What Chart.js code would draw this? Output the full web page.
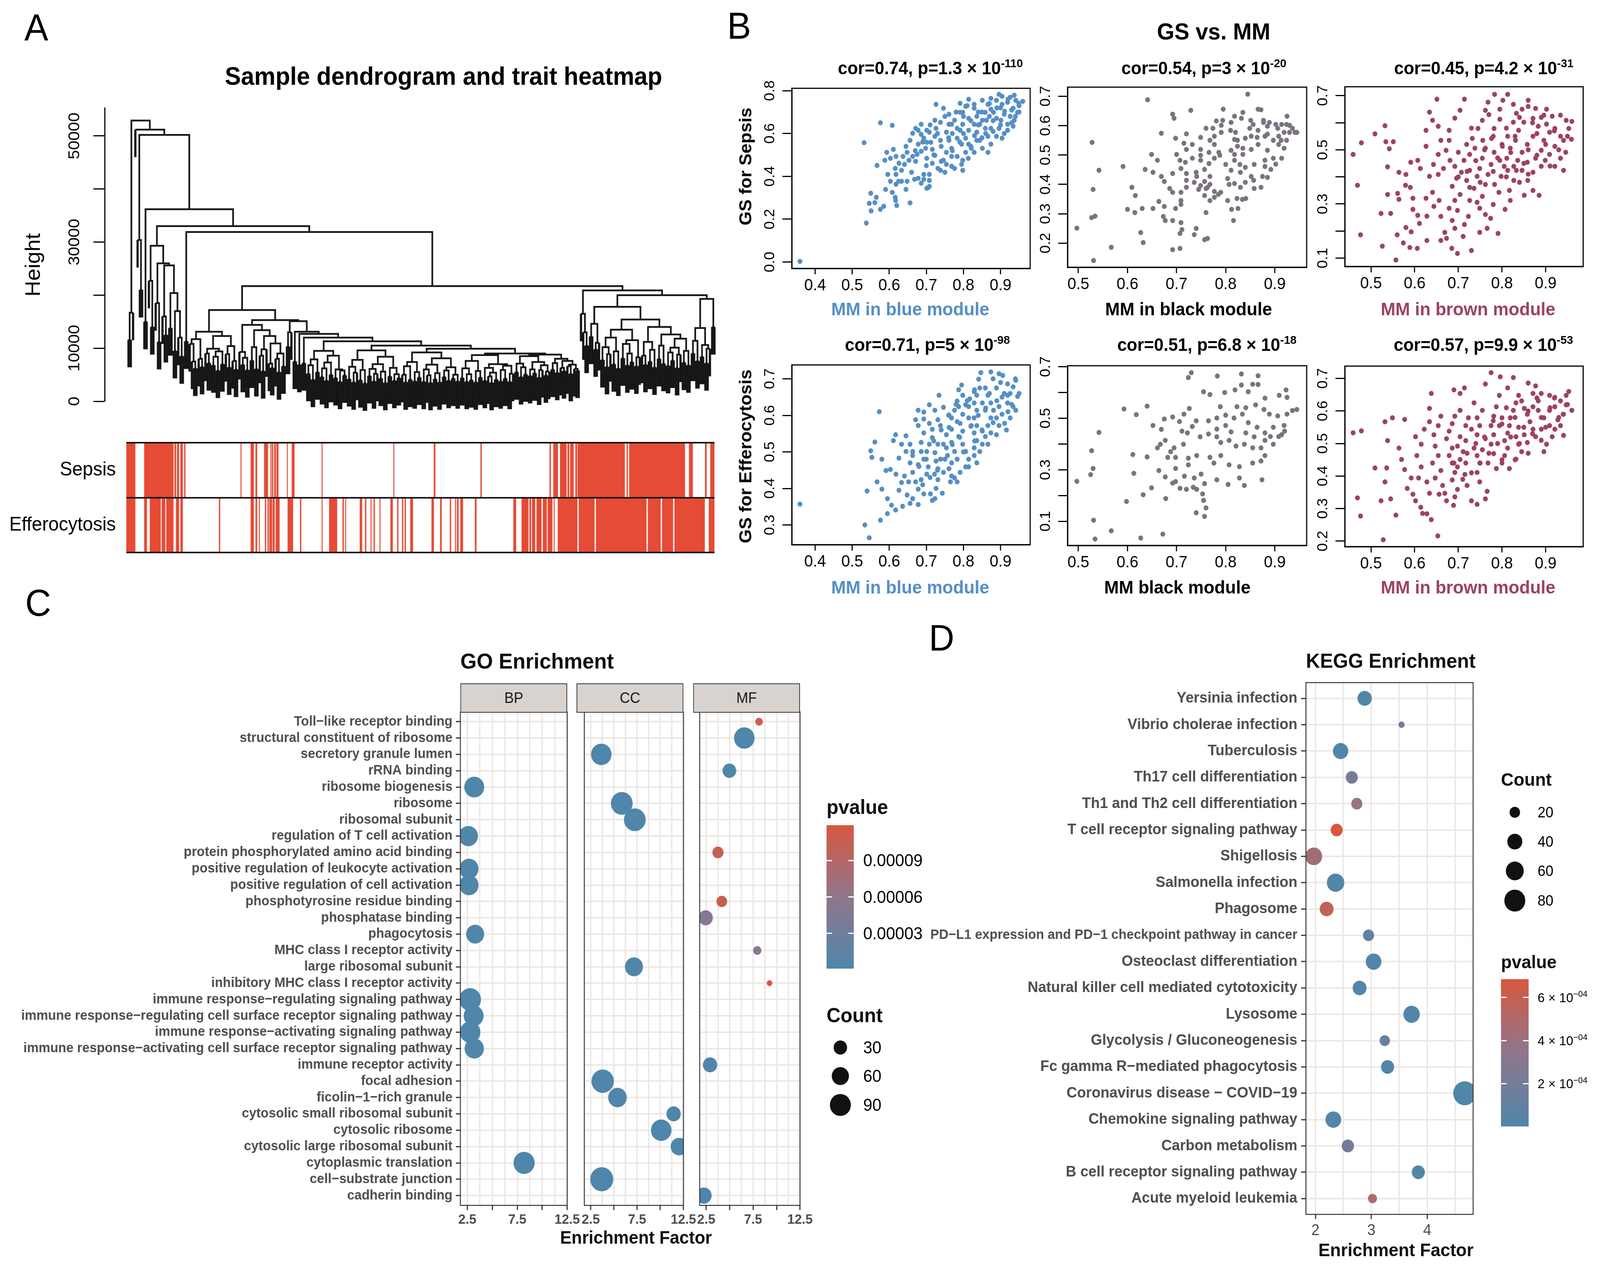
<!DOCTYPE html>
<html>
<head>
<meta charset="utf-8">
<script src="https://cdn.jsdelivr.net/npm/chart.js@4.4.1/dist/chart.umd.min.js"></script>
<style>
html, body { margin: 0; padding: 0; background: #fff; overflow: hidden; }
#page { position: relative; width: 4282px; height: 3235px; overflow: hidden; transform-origin: 0 0;
        font-family: "Liberation Sans", Arial, Helvetica, sans-serif; color: #000; }
canvas { position: absolute; }
.t { position: absolute; white-space: nowrap; line-height: 1; }
.strip { position: absolute; box-sizing: border-box; border: 2.5px solid #333; background: #d9d3cf;
         display: flex; align-items: center; justify-content: center; font-size: 38px; color: #1a1a1a; }
.sw { position: absolute; }
</style>
</head>
<body>
<div id="page"></div>
<script>
// ---------------- data: panel A ----------------
// merge height (x1000) between neighbouring samples, left to right along the tree
const dendroMergeK = [
  11.6, 16.7, 52.9, 51.2, 30.4, 21.0, 50.2, 15.0, 36.2,
  22.7, 14.0, 29.3, 18.5, 11.2, 26.0, 16.0, 12.5, 25.6, 13.8, 20.4, 9.5, 17.0, 12.0, 8.5,
  33.0, 11.3, 31.9,
  10.8, 7.5, 6.2, 11.7, 8.0, 6.5, 13.1, 9.0, 7.2, 9.9, 6.8, 8.4, 5.8, 9.4, 7.0, 12.3, 8.9, 6.4, 10.4, 7.6, 6.0,
  17.2,
  9.3, 6.9, 8.2, 5.9, 14.4, 7.7, 10.2, 6.1, 13.4, 8.6, 5.7, 9.8, 12.3, 7.1, 6.3, 10.9, 8.0, 5.5, 9.0, 6.6,
  15.3, 10.3, 13.0, 15.1,
  7.5, 13.1, 6.9, 12.7, 7.2, 12.0,
  5.2, 6.8, 4.1, 7.9, 5.5, 9.5, 4.6, 6.2, 3.9, 7.3, 5.0, 8.6, 4.4, 6.0, 3.7, 5.8, 4.9,
  11.3,
  4.2, 6.5, 3.6, 5.4, 7.8, 4.0, 5.9, 3.4, 9.6, 4.8, 6.1, 3.8, 5.2, 7.0, 4.3, 5.6, 3.5, 8.4, 4.7, 6.3, 3.9, 5.1, 4.4,
  10.5,
  5.0, 3.6, 6.6, 4.1, 7.4, 3.8, 5.5, 4.5, 9.2, 3.7, 6.0, 4.9, 3.5, 6.9, 4.2, 5.3, 3.6, 8.1, 4.6, 5.8, 3.9, 6.4, 4.3, 5.0, 3.8,
  9.9,
  4.4, 6.2, 3.7, 5.1, 4.0, 7.6, 3.6, 5.7, 4.5, 8.7, 3.9, 6.3, 4.7, 3.5, 5.4, 4.1, 7.0, 3.8, 5.9, 4.3, 6.7, 3.7, 5.2,
  9.0,
  5.5, 7.1, 4.6, 6.4, 5.1, 8.5, 4.8, 6.0, 5.3, 7.4, 4.5, 5.9, 6.8, 4.9, 5.6,
  8.8,
  6.0, 7.2, 5.4, 8.0, 6.3, 5.7, 7.6, 6.6, 5.2, 6.9, 6.1, 5.8,
  21.7,
  16.5, 13.0, 10.5, 20.9, 12.2, 14.6, 9.8, 11.0, 17.8,
  7.8, 10.2, 6.5, 8.9, 12.0, 7.0, 9.4, 6.2, 13.5, 8.1, 10.8, 6.8, 9.0, 7.4, 11.5, 6.6, 8.3,
  15.4,
  8.6, 6.9, 11.2, 7.5, 9.7, 6.4, 14.0, 8.0, 10.5, 7.1, 12.6, 6.7, 9.2, 7.7, 10.1, 6.3, 8.8, 11.8, 7.3, 9.5, 6.8,
  20.0,
  9.0, 11.4, 7.6, 13.8, 8.4, 10.6, 7.2, 9.9,
  19.3, 14.0
];
const dendroHangK = 5.2;
const dendroTickLabelsK = [0, 10, 30, 50];
const traitNames = ['Sepsis', 'Efferocytosis'];
// red runs, on a 0..1574 sample-position scale
const sepsisRuns = [[0,24],[48,126],[129,133],[136,141],[145,151],[155,158],[306,308],[333,341],[346,350],
  [369,379],[386,388],[390,393],[396,400],[402,407],[430,432],[443,450],[523,525],[715,717],[823,827],[948,951],
  [1133,1136],[1143,1155],[1161,1178],[1181,1185],[1188,1197],[1202,1206],[1208,1334],[1339,1342],[1346,1495],
  [1506,1516],[1549,1553],[1563,1574]];
const efferoRuns = [[0,24],[48,55],[63,92],[95,104],[107,126],[133,141],[145,151],[248,251],[333,341],[346,350],
  [355,357],[371,374],[378,381],[383,390],[392,397],[400,410],[432,446],[465,468],[523,525],[543,564],[579,582],
  [586,588],[625,631],[639,642],[654,656],[662,665],[678,680],[707,713],[725,728],[738,741],[745,748],[760,767],
  [817,823],[840,844],[866,869],[880,882],[885,889],[894,901],[933,937],[1036,1043],[1058,1076],[1079,1083],
  [1086,1094],[1098,1111],[1115,1125],[1128,1140],[1144,1146],[1155,1207],[1211,1253],[1257,1392],[1396,1430],
  [1434,1463],[1467,1548],[1559,1574]];

// ---------------- data: panel B ----------------
const gsTitles = [
  'cor=0.74, p=1.3 × 10<sup>-110</sup>', 'cor=0.54, p=3 × 10<sup>-20</sup>', 'cor=0.45, p=4.2 × 10<sup>-31</sup>',
  'cor=0.71, p=5 × 10<sup>-98</sup>', 'cor=0.51, p=6.8 × 10<sup>-18</sup>', 'cor=0.57, p=9.9 × 10<sup>-53</sup>'];
const mmTitles = ['MM in blue module', 'MM in black module', 'MM in brown module',
  'MM in blue module', 'MM black module', 'MM in brown module'];
const gsAxisTitles = ['GS for Sepsis', 'GS for Efferocytosis'];
const gsYLabels = [[0, 0.2, 0.4, 0.6, 0.8], [0.2, 0.3, 0.4, 0.5, 0.6, 0.7], [0.1, 0.3, 0.5, 0.7],
  [0.3, 0.4, 0.5, 0.6, 0.7], [0.1, 0.3, 0.5, 0.7], [0.2, 0.3, 0.4, 0.5, 0.6, 0.7]];
const gsYSteps = [0.2, 0.1, 0.1, 0.1, 0.1, 0.1];

const sepsisBlue = [[.359,.003],[.538,.182],[.532,.557],[.576,.650],[.608,.638],[.550,.321],[.546,.274],[.551,.239],
  [.561,.277],[.576,.246],[.585,.260],[.565,.302],[.590,.339],[.608,.325],[.616,.302],[.617,.288],[.620,.264],[.656,.276],
  [.645,.339],[.648,.377],[.625,.377],[.618,.409],[.633,.428],[.660,.419],[.678,.391],[.693,.409],[.708,.353],[.701,.344],
  [.686,.368],[.668,.386],[.567,.451],[.588,.475],[.603,.484],[.593,.512],[.611,.526],[.618,.493],[.626,.461],[.641,.456],
  [.653,.475],[.663,.493],[.648,.512],[.645,.540],[.656,.568],[.663,.601],[.671,.624],[.686,.643],[.701,.615],[.693,.578],
  [.678,.550],[.686,.517],[.701,.484],[.716,.461],[.731,.437],[.750,.419],[.768,.447],[.746,.475],[.723,.498],[.716,.526],
  [.712,.559],[.723,.587],[.726,.624],[.723,.662],[.726,.736],[.746,.718],[.750,.680],[.761,.643],[.754,.606],[.761,.568],
  [.768,.531],[.783,.493],[.795,.456],[.798,.475],[.813,.484],[.806,.512],[.821,.531],[.795,.550],[.783,.578],[.791,.615],
  [.798,.643],[.791,.699],[.791,.741],[.814,.760],[.829,.718],[.836,.680],[.829,.643],[.836,.606],[.844,.568],[.851,.531],
  [.866,.512],[.874,.550],[.866,.587],[.874,.624],[.862,.662],[.859,.699],[.866,.736],[.874,.764],[.889,.755],[.896,.783],
  [.904,.736],[.911,.704],[.901,.662],[.896,.624],[.904,.578],[.889,.587],[.919,.643],[.926,.680],[.934,.718],[.941,.755],
  [.937,.779],[.949,.741],[.946,.699],[.937,.662],[.919,.615],[.934,.634],[.881,.699],[.851,.662],[.844,.643],[.814,.615],
  [.806,.578],[.768,.643],[.761,.690],[.776,.662],[.783,.624],[.738,.652],[.738,.568],[.708,.606],[.686,.596],[.678,.615],
  [.814,.671],[.829,.736],[.851,.755],[.919,.746],[.926,.769],[.904,.774],[.874,.713],[.889,.671],[.859,.624],[.836,.568],
  [.829,.512],[.798,.428],[.776,.437],[.754,.456],[.738,.428],[.708,.409],[.693,.386],[.708,.381],[.705,.348],[.633,.377],
  [.618,.363],[.603,.377],[.596,.409],[.616,.437],[.637,.493],[.671,.470],[.675,.503],[.698,.531],[.701,.559],[.754,.512],
  [.768,.493],[.814,.550],[.798,.699],[.806,.727],[.85,.70],[.88,.66],[.91,.69],[.93,.71],[.87,.74],[.89,.72],[.92,.76],
  [.95,.73],[.94,.68],[.90,.64],[.86,.60],[.83,.59],[.80,.60],[.82,.66],[.84,.70],[.81,.73],[.78,.70],[.77,.60],[.79,.56],
  [.82,.54],[.85,.58],[.88,.61],[.91,.60],[.93,.65],[.95,.70],[.96,.75],[.90,.72],[.87,.68],[.84,.64],[.80,.68],[.76,.58],
  [.74,.54],[.72,.50],[.70,.45],[.74,.47],[.77,.52],[.73,.60],[.71,.64],[.69,.56],[.67,.52]];

const sepsisBlack = [[.641,.688],[.845,.707],[.528,.543],[.542,.448],[.530,.383],[.527,.287],[.534,.292],[.497,.251],
  [.531,.141],[.567,.186],[.591,.461],[.609,.390],[.616,.362],[.600,.315],[.615,.304],[.630,.318],[.627,.236],[.632,.202],
  [.669,.574],[.692,.639],[.695,.625],[.729,.652],[.698,.557],[.720,.572],[.749,.560],[.715,.540],[.732,.536],[.649,.502],
  [.661,.482],[.636,.451],[.669,.427],[.675,.410],[.652,.441],[.686,.386],[.692,.437],[.709,.454],[.718,.475],[.720,.437],
  [.740,.441],[.709,.345],[.709,.332],[.698,.318],[.692,.373],[.709,.373],[.720,.390],[.675,.325],[.664,.342],[.652,.318],
  [.673,.291],[.677,.277],[.692,.277],[.709,.270],[.711,.246],[.740,.250],[.736,.229],[.707,.233],[.692,.178],[.707,.182],
  [.757,.212],[.763,.216],[.760,.304],[.768,.345],[.777,.356],[.785,.366],[.757,.362],[.745,.383],[.763,.390],[.749,.396],
  [.768,.400],[.757,.410],[.768,.427],[.777,.489],[.788,.499],[.786,.509],[.777,.536],[.768,.550],[.791,.577],[.794,.618],
  [.781,.616],[.795,.656],[.811,.611],[.818,.632],[.835,.645],[.832,.625],[.851,.618],[.866,.656],[.872,.654],[.856,.604],
  [.877,.611],[.885,.598],[.902,.604],[.914,.604],[.925,.632],[.930,.601],[.936,.591],[.945,.577],[.919,.577],[.908,.564],
  [.897,.550],[.880,.564],[.864,.560],[.852,.564],[.840,.557],[.824,.550],[.818,.553],[.824,.530],[.835,.523],[.811,.516],
  [.818,.502],[.835,.502],[.852,.519],[.866,.536],[.885,.516],[.908,.536],[.919,.523],[.897,.489],[.914,.489],[.880,.482],
  [.880,.461],[.892,.451],[.902,.469],[.858,.468],[.840,.458],[.829,.468],[.818,.482],[.800,.468],[.811,.448],[.830,.441],
  [.852,.427],[.875,.427],[.885,.424],[.857,.414],[.840,.407],[.818,.403],[.807,.400],[.804,.420],[.830,.390],[.858,.386],
  [.872,.390],[.834,.349],[.823,.352],[.825,.318],[.812,.315],[.816,.277],[.841,.352],[.804,.345],[.790,.373],[.777,.376],
  [.760,.386],[.736,.407],[.720,.414],[.741,.427],[.757,.451],[.766,.471],[.749,.482],[.732,.489],[.749,.499],[.766,.509],
  [.777,.564],[.760,.591],[.749,.519],[.720,.519],[.707,.482],[.700,.502],[.791,.601],[.774,.591],[.810,.584],[.820,.577],
  [.849,.591],[.866,.584],[.877,.618],[.889,.611],[.906,.591],[.924,.604],[.930,.577],[.941,.577],[.924,.550],[.913,.550],
  [.885,.571]];

const sepsisBrown = [[.459,.483],[.469,.369],[.476,.186],[.478,.526],[.509,.559],[.532,.589],[.534,.530],[.551,.530],
  [.542,.504],[.538,.437],[.523,.265],[.545,.265],[.538,.335],[.561,.339],[.564,.317],[.526,.144],[.557,.093],[.560,.186],
  [.574,.156],[.589,.139],[.606,.136],[.580,.213],[.592,.197],[.596,.280],[.607,.258],[.611,.228],[.628,.165],[.628,.255],
  [.626,.321],[.596,.321],[.590,.361],[.579,.369],[.564,.417],[.580,.409],[.591,.454],[.607,.461],[.613,.431],[.626,.513],
  [.626,.572],[.634,.639],[.651,.687],[.654,.587],[.641,.609],[.660,.535],[.679,.572],[.704,.646],[.714,.687],[.692,.617],
  [.679,.535],[.672,.498],[.654,.483],[.643,.446],[.654,.409],[.634,.402],[.641,.343],[.656,.313],[.644,.291],[.660,.254],
  [.679,.284],[.686,.239],[.692,.210],[.669,.195],[.660,.165],[.673,.173],[.685,.136],[.698,.117],[.730,.128],[.711,.180],
  [.714,.224],[.723,.254],[.698,.276],[.692,.313],[.704,.335],[.686,.365],[.696,.395],[.707,.417],[.692,.439],[.713,.461],
  [.726,.483],[.738,.506],[.732,.542],[.745,.579],[.755,.609],[.762,.646],[.768,.676],[.783,.705],[.795,.650],[.802,.683],
  [.813,.705],[.795,.613],[.782,.579],[.776,.542],[.762,.506],[.755,.469],[.749,.431],[.743,.402],[.736,.358],[.755,.328],
  [.749,.284],[.762,.261],[.766,.210],[.749,.195],[.791,.191],[.774,.247],[.780,.298],[.793,.343],[.783,.372],[.798,.402],
  [.805,.439],[.811,.469],[.819,.506],[.831,.535],[.838,.572],[.850,.602],[.860,.683],[.877,.653],[.871,.616],[.883,.587],
  [.871,.550],[.858,.520],[.846,.491],[.836,.461],[.833,.424],[.827,.387],[.817,.350],[.819,.313],[.807,.280],[.851,.332],
  [.871,.350],[.885,.332],[.859,.387],[.871,.417],[.890,.439],[.899,.461],[.909,.483],[.921,.513],[.934,.550],[.953,.579],
  [.947,.609],[.934,.628],[.915,.624],[.902,.595],[.909,.565],[.921,.579],[.941,.535],[.959,.539],[.946,.491],[.934,.469],
  [.941,.424],[.921,.439],[.896,.535],[.890,.498],[.877,.469],[.858,.454],[.846,.424],[.827,.439],[.813,.424],[.795,.461],
  [.782,.491],[.801,.513],[.813,.550],[.826,.602],[.833,.635],[.826,.668],[.846,.650],[.896,.628],[.902,.650],[.960,.605],
  [.756,.535],[.719,.520],[.700,.491],[.681,.461],[.666,.431],[.719,.387],[.726,.361],[.726,.313],[.743,.306],[.762,.372],
  [.768,.409],[.775,.446],[.726,.424],[.80,.52],[.83,.55],[.86,.50],[.88,.56],[.90,.52],[.92,.57],[.87,.60],[.84,.62],
  [.81,.58],[.78,.55],[.76,.50],[.79,.47],[.82,.49],[.85,.45],[.88,.48],[.91,.44],[.93,.50],[.95,.55],[.89,.62],[.86,.66],
  [.74,.46],[.72,.42],[.70,.40],[.75,.38],[.78,.42],[.81,.40],[.84,.38],[.86,.41],[.73,.58],[.77,.63]];

const effBlue = [[.359,.357],[.534,.300],[.546,.265],[.540,.393],[.576,.313],[.573,.610],[.567,.418],[.580,.398],
  [.553,.485],[.550,.503],[.561,.527],[.580,.480],[.591,.449],[.595,.372],[.606,.354],[.595,.331],[.617,.341],[.636,.351],
  [.656,.359],[.648,.382],[.626,.395],[.633,.416],[.618,.439],[.603,.452],[.626,.483],[.611,.531],[.617,.547],[.645,.544],
  [.656,.521],[.663,.501],[.656,.470],[.663,.444],[.671,.418],[.678,.398],[.693,.385],[.686,.424],[.701,.439],[.705,.459],
  [.693,.480],[.686,.501],[.686,.526],[.693,.552],[.678,.572],[.671,.588],[.693,.590],[.708,.578],[.723,.614],[.708,.629],
  [.734,.655],[.716,.539],[.731,.521],[.723,.498],[.726,.475],[.731,.454],[.722,.439],[.731,.424],[.743,.387],[.726,.400],
  [.746,.444],[.761,.454],[.768,.470],[.757,.490],[.754,.511],[.768,.526],[.754,.547],[.761,.567],[.768,.593],[.776,.614],
  [.783,.639],[.787,.670],[.795,.683],[.798,.655],[.806,.629],[.798,.603],[.791,.578],[.798,.557],[.787,.542],[.798,.521],
  [.806,.501],[.814,.480],[.806,.459],[.791,.444],[.776,.429],[.765,.418],[.829,.511],[.836,.531],[.829,.552],[.836,.572],
  [.829,.593],[.836,.614],[.829,.634],[.836,.655],[.844,.675],[.841,.699],[.874,.719],[.847,.717],[.896,.714],[.906,.709],
  [.919,.686],[.934,.678],[.941,.696],[.946,.652],[.926,.660],[.919,.634],[.934,.624],[.941,.614],[.926,.593],[.911,.578],
  [.916,.560],[.896,.572],[.889,.593],[.881,.614],[.874,.634],[.866,.655],[.859,.675],[.889,.675],[.904,.650],[.896,.624],
  [.874,.593],[.866,.572],[.874,.552],[.859,.542],[.851,.521],[.844,.501],[.829,.490],[.836,.470],[.814,.459],[.783,.418],
  [.768,.434],[.851,.557],[.866,.521],[.889,.547],[.904,.603],[.919,.655],[.851,.634],[.859,.614],[.821,.572],[.814,.593],
  [.814,.624],[.817,.645],[.829,.665],[.783,.583],[.768,.562],[.738,.572],[.731,.588],[.716,.562],[.708,.521],[.701,.501],
  [.738,.480],[.746,.521],[.776,.501],[.783,.480],[.711,.385],[.716,.367],[.678,.356],[.663,.372],[.641,.434],[.652,.418],
  [.678,.465],[.663,.490],[.645,.501],[.633,.521],[.693,.609],[.678,.614],[.746,.622],[.761,.601],[.787,.624],[.723,.372],
  [.86,.62],[.89,.64],[.91,.66],[.93,.63],[.88,.58],[.85,.56],[.83,.53],[.80,.50],[.82,.57],[.84,.60],[.87,.66],[.90,.69],
  [.92,.61],[.95,.66],[.94,.70],[.88,.70],[.79,.54],[.77,.52],[.75,.48],[.73,.45],[.71,.43],[.69,.41],[.74,.56],[.72,.53],
  [.70,.48],[.68,.46],[.76,.60],[.78,.63],[.81,.64],[.83,.67]];

const effBlack = [[.730,.677],[.724,.658],[.783,.664],[.832,.672],[.866,.665],[.593,.536],[.640,.547],[.618,.514],
  [.542,.445],[.527,.374],[.530,.305],[.525,.281],[.497,.255],[.531,.104],[.567,.063],[.534,.031],[.627,.035],[.672,.050],
  [.598,.177],[.632,.203],[.613,.286],[.611,.359],[.640,.350],[.649,.230],[.678,.188],[.692,.248],[.707,.228],[.720,.224],
  [.741,.224],[.753,.206],[.755,.181],[.760,.152],[.757,.119],[.740,.133],[.664,.297],[.677,.272],[.698,.305],[.716,.275],
  [.736,.268],[.750,.283],[.776,.326],[.768,.348],[.790,.355],[.807,.319],[.805,.243],[.828,.268],[.838,.239],[.874,.261],
  [.828,.312],[.855,.326],[.872,.334],[.880,.355],[.897,.399],[.914,.436],[.920,.450],[.908,.429],[.891,.429],[.880,.414],
  [.872,.385],[.855,.385],[.838,.399],[.821,.392],[.807,.414],[.790,.406],[.782,.428],[.765,.439],[.748,.428],[.722,.443],
  [.714,.399],[.695,.385],[.677,.414],[.661,.385],[.667,.399],[.688,.370],[.724,.345],[.741,.355],[.724,.319],[.698,.348],
  [.652,.472],[.675,.497],[.692,.505],[.715,.516],[.726,.538],[.740,.490],[.765,.490],[.782,.501],[.755,.603],[.768,.592],
  [.798,.600],[.819,.610],[.832,.629],[.855,.632],[.866,.631],[.846,.603],[.880,.578],[.909,.589],[.923,.610],[.925,.581],
  [.861,.552],[.878,.534],[.889,.516],[.906,.509],[.925,.516],[.936,.530],[.945,.534],[.919,.472],[.897,.465],[.880,.443],
  [.864,.465],[.846,.483],[.834,.516],[.817,.501],[.800,.512],[.789,.545],[.823,.545],[.841,.541],[.800,.472],[.782,.458],
  [.811,.447],[.841,.443],[.858,.428],[.711,.450],[.732,.468],[.706,.487],[.669,.457],[.682,.348],[.734,.232],[.698,.254],
  [.757,.246],[.782,.261]];

const effBrown = [[.459,.533],[.478,.539],[.469,.333],[.476,.277],[.528,.204],[.523,.324],[.545,.330],[.557,.280],
  [.509,.425],[.532,.567],[.549,.579],[.577,.574],[.538,.509],[.536,.425],[.532,.382],[.564,.486],[.570,.451],[.577,.420],
  [.583,.362],[.592,.394],[.596,.344],[.602,.324],[.614,.304],[.618,.285],[.628,.284],[.638,.266],[.653,.216],[.656,.344],
  [.634,.347],[.628,.382],[.609,.394],[.615,.428],[.605,.463],[.615,.498],[.602,.521],[.622,.544],[.634,.567],[.638,.654],
  [.634,.608],[.660,.584],[.654,.555],[.644,.527],[.647,.492],[.654,.463],[.641,.440],[.660,.417],[.647,.394],[.664,.371],
  [.669,.347],[.673,.324],[.689,.310],[.692,.336],[.698,.359],[.686,.388],[.692,.411],[.686,.440],[.679,.463],[.686,.486],
  [.673,.515],[.679,.538],[.686,.561],[.692,.584],[.704,.602],[.690,.665],[.714,.671],[.704,.654],[.717,.555],[.717,.509],
  [.711,.475],[.717,.440],[.715,.405],[.720,.371],[.730,.324],[.743,.313],[.762,.330],[.766,.353],[.749,.382],[.743,.411],
  [.749,.440],[.743,.463],[.736,.486],[.743,.527],[.749,.555],[.743,.579],[.736,.625],[.762,.683],[.775,.718],[.796,.705],
  [.826,.703],[.813,.671],[.794,.648],[.787,.613],[.781,.584],[.775,.555],[.781,.527],[.775,.498],[.781,.469],[.768,.440],
  [.787,.423],[.800,.440],[.806,.463],[.813,.486],[.806,.509],[.813,.532],[.817,.555],[.819,.579],[.826,.602],[.832,.625],
  [.838,.648],[.845,.631],[.851,.608],[.860,.686],[.877,.677],[.871,.654],[.883,.631],[.890,.654],[.909,.648],[.921,.642],
  [.934,.631],[.947,.648],[.953,.660],[.947,.619],[.960,.602],[.941,.590],[.928,.573],[.934,.555],[.921,.544],[.909,.555],
  [.896,.579],[.883,.602],[.871,.613],[.858,.590],[.864,.567],[.871,.544],[.877,.521],[.858,.503],[.851,.527],[.838,.550],
  [.832,.521],[.838,.498],[.845,.475],[.832,.452],[.817,.423],[.896,.475],[.902,.498],[.915,.521],[.941,.525],[.890,.544],
  [.909,.602],[.921,.613],[.800,.579],[.794,.555],[.755,.602],[.762,.515],[.755,.481],[.723,.579],[.730,.544],[.704,.521],
  [.698,.492],[.704,.451],[.698,.428],[.83,.58],[.86,.60],[.89,.58],[.91,.61],[.93,.58],[.88,.64],[.85,.55],[.82,.52],
  [.79,.50],[.77,.47],[.80,.56],[.84,.50],[.87,.53],[.90,.55],[.92,.64],[.95,.62],[.94,.59],[.89,.51],[.86,.47],[.83,.45],
  [.75,.44],[.73,.41],[.71,.39],[.76,.52],[.78,.57],[.81,.61],[.74,.50],[.69,.44],[.72,.47],[.80,.45]];

// ---------------- data: panel C (GO) ----------------
const goTerms = ['Toll−like receptor binding', 'structural constituent of ribosome', 'secretory granule lumen',
  'rRNA binding', 'ribosome biogenesis', 'ribosome', 'ribosomal subunit', 'regulation of T cell activation',
  'protein phosphorylated amino acid binding', 'positive regulation of leukocyte activation',
  'positive regulation of cell activation', 'phosphotyrosine residue binding', 'phosphatase binding', 'phagocytosis',
  'MHC class I receptor activity', 'large ribosomal subunit', 'inhibitory MHC class I receptor activity',
  'immune response−regulating signaling pathway', 'immune response−regulating cell surface receptor signaling pathway',
  'immune response−activating signaling pathway', 'immune response−activating cell surface receptor signaling pathway',
  'immune receptor activity', 'focal adhesion', 'ficolin−1−rich granule', 'cytosolic small ribosomal subunit',
  'cytosolic ribosome', 'cytosolic large ribosomal subunit', 'cytoplasmic translation', 'cell−substrate junction',
  'cadherin binding'];
const goOnt = ['MF','MF','CC','MF','BP','CC','CC','BP','MF','BP','BP','MF','MF','BP','MF','CC','MF','BP','BP','BP','BP',
  'MF','CC','CC','CC','CC','CC','BP','CC','MF'];
const goFactor = [8.13, 6.56, 3.63, 4.97, 3.19, 5.84, 7.25, 2.60, 3.75, 2.66, 2.66, 4.16, 2.44, 3.28, 7.94, 7.16, 9.25,
  2.78, 3.13, 2.78, 3.19, 2.91, 3.78, 5.38, 11.44, 10.10, 12.03, 8.18, 3.68, 2.25];
const goCount = [6, 88, 88, 33, 82, 101, 101, 76, 19, 76, 76, 17, 37, 65, 8, 65, 2, 101, 82, 88, 76, 37, 108, 70, 37,
  88, 55, 95, 115, 45];
const goP = [1.10e-4, 1e-6, 1e-6, 1e-6, 1e-6, 1e-6, 1e-6, 1e-6, 1.03e-4, 1e-6, 1e-6, 1.07e-4, 5.2e-5, 1e-6, 5.5e-5, 1e-6,
  1.19e-4, 1e-6, 1e-6, 1e-6, 1e-6, 1e-6, 1e-6, 1e-6, 1e-6, 1e-6, 1e-6, 1e-6, 1e-6, 1e-6];
const goFacets = ['BP', 'CC', 'MF'];
const goPBreaks = [0.00003, 0.00006, 0.00009];
const goCountBreaks = [30, 60, 90];

// ---------------- data: panel D (KEGG) ----------------
const keggTerms = ['Yersinia infection', 'Vibrio cholerae infection', 'Tuberculosis', 'Th17 cell differentiation',
  'Th1 and Th2 cell differentiation', 'T cell receptor signaling pathway', 'Shigellosis', 'Salmonella infection',
  'Phagosome', 'PD−L1 expression and PD−1 checkpoint pathway in cancer', 'Osteoclast differentiation',
  'Natural killer cell mediated cytotoxicity', 'Lysosome', 'Glycolysis / Gluconeogenesis',
  'Fc gamma R−mediated phagocytosis', 'Coronavirus disease − COVID−19', 'Chemokine signaling pathway',
  'Carbon metabolism', 'B cell receptor signaling pathway', 'Acute myeloid leukemia'];
const keggFactor = [2.88, 3.54, 2.45, 2.65, 2.74, 2.38, 1.97, 2.36, 2.20, 2.95, 3.04, 2.79, 3.72, 3.24, 3.29, 4.67,
  2.32, 2.58, 3.84, 3.02];
const keggCount = [38, 7, 44, 27, 23, 27, 53, 57, 36, 23, 46, 36, 50, 20, 32, 98, 46, 28, 32, 15];
const keggP = [1e-5, 1.8e-4, 1e-6, 2.0e-4, 3.8e-4, 6.85e-4, 4.3e-4, 1e-5, 5.8e-4, 0.9e-4, 2e-5, 3e-5, 1e-5, 1.4e-4,
  2e-5, 1e-6, 2e-5, 2.1e-4, 1e-5, 4.8e-4];
const keggPBreaks = [2e-4, 4e-4, 6e-4];
const keggCountBreaks = [20, 40, 60, 80];

// ---------------- styling ----------------
const FF = '"Liberation Sans", Arial, Helvetica, sans-serif';
Chart.defaults.font.family = FF;
const traitRed = '#E54B35';
const moduleColors = ['#568FC5', '#7B727F', '#9D4262'];
const pLow = [79, 134, 170], pMid = [143, 118, 140], pHigh = [215, 88, 63];
const gridCol = '#ebe6e3';
const page = document.getElementById('page');

// stretch the 4282 x 3235 figure over whatever CSS viewport the browser gives
const fitX = window.innerWidth / 4282, fitY = window.innerHeight / 3235;
if (fitX > 0 && fitY > 0 && (Math.abs(fitX - 1) > 0.002 || Math.abs(fitY - 1) > 0.002)) {
  page.style.transform = 'scale(' + fitX + ',' + fitY + ')';
}

function rgb(a) { return 'rgb(' + a.join(',') + ')'; }
function pColor(p, r) {
  let t = (p - r[0]) / (r[1] - r[0]);
  t = Math.max(0, Math.min(1, t));
  const a = t < 0.5 ? pLow : pMid, b = t < 0.5 ? pMid : pHigh, u = t < 0.5 ? t * 2 : (t - 0.5) * 2;
  return rgb(a.map((v, i) => Math.round(v + (b[i] - v) * u)));
}
const goSize = n => 8 + 5 * Math.sqrt(n);      // dot diameter, px
const keggSize = n => 6.2 * Math.sqrt(n);

function text(html, x, y, o) {
  o = o || {};
  const d = document.createElement('div');
  d.className = 't';
  d.innerHTML = html;
  d.style.left = x + 'px';
  d.style.top = y + 'px';
  d.style.fontSize = (o.size || 40) + 'px';
  d.style.fontWeight = o.bold ? 'bold' : 'normal';
  if (o.color) d.style.color = o.color;
  const ax = o.anchor === 'left' ? '0' : (o.anchor === 'right' ? '-100%' : '-50%');
  d.style.transform = 'translate(' + ax + ',-50%)' + (o.rot ? ' rotate(-90deg)' : '');
  page.appendChild(d);
  return d;
}
function addCanvas(box, m) {
  const c = document.createElement('canvas');
  const w = box[2] - box[0] + m[0] + m[2], h = box[3] - box[1] + m[1] + m[3];
  c.width = w; c.height = h;
  c.style.left = (box[0] - m[0]) + 'px';
  c.style.top = (box[1] - m[1]) + 'px';
  c.style.width = w + 'px';
  c.style.height = h + 'px';
  page.appendChild(c);
  return c;
}
function baseOptions(m, xHidden) {
  return {
    responsive: false, animation: false, devicePixelRatio: 1, events: [],
    layout: { padding: { left: 0, top: m[1], right: m[2], bottom: xHidden ? m[3] : 0 } },
    plugins: { legend: { display: false }, tooltip: { enabled: false } }
  };
}
const fitW = w => s => { s.width = w; };
const fitH = h => s => { s.height = h; };
const near = (v, step) => Math.abs(v / step - Math.round(v / step)) < 1e-6;

// rotated y tick labels (R style) and a box round the plot area
const rotY = {
  id: 'rotY',
  afterDraw(chart, args, o) {
    if (!o || !o.values) return;
    const s = chart.scales.y, ctx = chart.ctx;
    ctx.save();
    ctx.font = o.font;
    ctx.fillStyle = '#000';
    ctx.textAlign = 'center';
    ctx.textBaseline = 'middle';
    for (const v of o.values) {
      ctx.save();
      ctx.translate(s.right - o.offset, s.getPixelForValue(v));
      ctx.rotate(-Math.PI / 2);
      ctx.fillText((v * (o.mult || 1)).toFixed(o.decimals), 0, 0);
      ctx.restore();
    }
    ctx.restore();
  }
};
const frame = {
  id: 'frame',
  afterDatasetsDraw(chart, args, o) {
    if (!o || !o.width) return;
    const a = chart.chartArea, ctx = chart.ctx;
    ctx.save();
    ctx.strokeStyle = o.color;
    ctx.lineWidth = o.width;
    ctx.strokeRect(a.left, a.top, a.right - a.left, a.bottom - a.top);
    ctx.restore();
  }
};
Chart.register(rotY, frame);

// ---------------- panel A ----------------
text('A', 97, 70, { size: 96 });
text('Sample dendrogram and trait heatmap', 1187, 195, { size: 64, bold: true });
text('Height', 88, 678, { size: 56, rot: true });

(function () {
  const box = [280, 276, 1930, 1027], m = [280, 30, 20, 60];
  const links = [], leaves = [];
  const gap = { x: NaN, y: NaN };
  function node(lo, hi) {
    if (lo === hi) return { x: lo, h: null };
    let k = lo;
    for (let i = lo; i < hi; i++) if (dendroMergeK[i] > dendroMergeK[k]) k = i;
    const L = node(lo, k), R = node(k + 1, hi), h = dendroMergeK[k];
    links.push({ x: L.x, y: L.h === null ? h : L.h }, { x: L.x, y: h }, { x: R.x, y: h },
      { x: R.x, y: R.h === null ? h : R.h }, gap);
    [L, R].forEach(c => { if (c.h === null) leaves.push({ x: c.x, y: h }, { x: c.x, y: h - dendroHangK }, gap); });
    return { x: (L.x + R.x) / 2, h: h };
  }
  node(0, dendroMergeK.length);
  const o = baseOptions(m, true);
  o.scales = {
    x: { type: 'linear', display: false, min: -10.57, max: 261.97 },
    y: { type: 'linear', min: 0, max: 55.3, afterFit: fitW(m[0]),
      ticks: { display: false, stepSize: 10, includeBounds: false },
      grid: { drawOnChartArea: false, tickLength: 30, tickWidth: 3, tickColor: '#000' },
      border: { display: true, width: 3, color: '#000' } }
  };
  o.plugins.rotY = { values: dendroTickLabelsK, mult: 1000, decimals: 0, offset: 80, font: '43px ' + FF };
  new Chart(addCanvas(box, m), {
    type: 'scatter',
    data: { datasets: [
      { data: links, showLine: true, borderColor: '#151515', borderWidth: 4.5, pointRadius: 0,
        clip: false, spanGaps: false, tension: 0 },
      { data: leaves, showLine: true, borderColor: '#151515', borderWidth: 6, pointRadius: 0,
        clip: false, spanGaps: false, tension: 0 }] },
    options: o
  });
})();

(function () {
  const box = [338, 1133, 1912, 1414], m = [338, 70, 20, 70];
  const n = Math.max(sepsisRuns.length, efferoRuns.length), ds = [];
  for (let k = 0; k < n; k++) {
    ds.push({ data: [sepsisRuns[k] || null, efferoRuns[k] || null], backgroundColor: traitRed, borderWidth: 0,
      grouped: false, barPercentage: 1, categoryPercentage: 1 });
  }
  const o = baseOptions(m, true);
  o.indexAxis = 'y';
  o.scales = {
    x: { type: 'linear', display: false, min: 0, max: 1574 },
    y: { type: 'category', offset: true, afterFit: fitW(m[0]),
      ticks: { color: '#000', font: { size: 50 }, padding: 28 },
      grid: { color: '#151515', lineWidth: 4, offset: true, drawTicks: false, z: 1 },
      border: { display: false } }
  };
  new Chart(addCanvas(box, m), { type: 'bar', data: { labels: traitNames, datasets: ds }, options: o });
})();

// ---------------- panel B ----------------
text('B', 1978, 66, { size: 96 });
text('GS vs. MM', 3248, 81, { size: 60, bold: true });
const gsLayout = [
  { box: [2119, 226, 2757, 687], x: [0.337, 0.98], y: [-0.03, 0.811], pts: sepsisBlue, col: 0, title: [2490, 174], xt: [2436, 790] },
  { box: [2857, 223, 3497, 684], x: [0.478, 0.965], y: [0.118, 0.731], pts: sepsisBlack, col: 1, title: [3222, 174], xt: [3181, 790] },
  { box: [3599, 222, 4237, 682], x: [0.44, 0.986], y: [0.069, 0.733], pts: sepsisBrown, col: 2, title: [3971, 174], xt: [3929, 790] },
  { box: [2119, 934, 2757, 1394], x: [0.337, 0.98], y: [0.246, 0.738], pts: effBlue, col: 0, title: [2482, 882], xt: [2436, 1502] },
  { box: [2857, 936, 3497, 1396], x: [0.478, 0.965], y: [0.006, 0.704], pts: effBlack, col: 1, title: [3230, 882], xt: [3151, 1502] },
  { box: [3599, 937, 4237, 1399], x: [0.44, 0.986], y: [0.183, 0.738], pts: effBrown, col: 2, title: [3970, 882], xt: [3929, 1502] }
];
gsLayout.forEach((p, i) => {
  const m = [120, 40, 10, 80];
  const o = baseOptions(m, false);
  o.scales = {
    x: { type: 'linear', min: p.x[0], max: p.x[1], afterFit: fitH(m[3]),
      ticks: { stepSize: 0.1, includeBounds: false, autoSkip: false, maxRotation: 0, minRotation: 0, padding: 4,
        color: '#000', font: { size: 42 }, callback: v => v.toFixed(1) },
      grid: { drawOnChartArea: false, tickLength: 15, tickWidth: 3, tickColor: '#000' },
      border: { display: true, width: 3, color: '#000' } },
    y: { type: 'linear', min: p.y[0], max: p.y[1], afterFit: fitW(m[0]),
      ticks: { display: false, stepSize: gsYSteps[i], includeBounds: false },
      grid: { drawOnChartArea: false, tickLength: 25, tickWidth: 3, tickColor: '#000' },
      border: { display: true, width: 3, color: '#000' } }
  };
  o.plugins.rotY = { values: gsYLabels[i], decimals: 1, offset: 57, font: '38px ' + FF };
  o.plugins.frame = { width: 3, color: '#000' };
  new Chart(addCanvas(p.box, m), {
    type: 'scatter',
    data: { datasets: [{ data: p.pts.map(q => ({ x: q[0], y: q[1] })), pointRadius: 6.5,
      pointBackgroundColor: moduleColors[p.col], pointBorderWidth: 0 }] },
    options: o
  });
  text(gsTitles[i].replace('<sup>', '<span style="font-size:0.66em;position:relative;top:-0.6em">').replace('</sup>', '</span>'),
    p.title[0], p.title[1], { size: 46, bold: true });
  text(mmTitles[i], p.xt[0], p.xt[1], { size: 47, bold: true, color: p.col === 1 ? '#000' : moduleColors[p.col] });
});
text(gsAxisTitles[0], 1995, 426, { size: 46, bold: true, rot: true });
text(gsAxisTitles[1], 1995, 1168, { size: 46, bold: true, rot: true });

// ---------------- panel C ----------------
text('C', 102, 1543, { size: 96 });
text('GO Enrichment', 1232, 1692, { size: 56, bold: true, anchor: 'left', color: '#111' });
const goPRange = [Math.min(...goP), Math.max(...goP)];
const goBoxes = [[1232, 1822, 1518, 3085], [1543, 1822, 1829, 3085], [1855, 1822, 2141, 3085]];
goFacets.forEach((f, fi) => {
  const box = goBoxes[fi];
  const m = fi === 0 ? [box[0], 45, 45, 70] : [10, 45, 45, 70];
  const idx = goTerms.map((t, i) => i).filter(i => goOnt[i] === f);
  const o = baseOptions(m, false);
  o.scales = {
    x: { type: 'linear', min: 1.8, max: 12.5, afterFit: fitH(m[3]),
      ticks: { stepSize: 1.25, includeBounds: false, autoSkip: false, maxRotation: 0, minRotation: 0, padding: 4,
        color: '#4d4d4d', font: { size: 35, weight: 'bold' },
        callback: v => (near(v - 2.5, 5) ? v.toFixed(1) : '') },
      grid: { color: gridCol, lineWidth: 3.5, tickLength: 12, tickWidth: 3,
        tickColor: c => (c.tick && near(c.tick.value, 2.5) ? '#333' : 'rgba(0,0,0,0)') },
      border: { display: false } },
    y: { type: 'linear', reverse: true, min: -0.6, max: goTerms.length - 0.4, afterFit: fitW(m[0]),
      ticks: { display: fi === 0, stepSize: 1, includeBounds: false, autoSkip: false, padding: 9,
        color: '#4d4d4d', font: { size: 35, weight: 'bold' }, callback: v => goTerms[v] },
      grid: { color: gridCol, lineWidth: 3.5, drawTicks: fi === 0, tickLength: 12, tickWidth: 3, tickColor: '#333' },
      border: { display: false } }
  };
  o.plugins.frame = { width: 2.5, color: '#333' };
  new Chart(addCanvas(box, m), {
    type: 'bubble',
    data: { datasets: [{ data: idx.map(i => ({ x: goFactor[i], y: i, r: goSize(goCount[i]) / 2 })),
      backgroundColor: idx.map(i => pColor(goP[i], goPRange)), borderWidth: 0, clip: 0 }] },
    options: o
  });
  const s = document.createElement('div');
  s.className = 'strip';
  s.textContent = f;
  s.style.left = box[0] + 'px'; s.style.top = '1749px';
  s.style.width = (box[2] - box[0]) + 'px'; s.style.height = '75px';
  page.appendChild(s);
});
text('Enrichment Factor', 1702, 3167, { size: 46, bold: true, color: '#111' });

function colorbar(x, y, w, h, range, breaks, fmt, labelX, size) {
  const bar = document.createElement('div');
  bar.className = 'sw';
  bar.style.left = x + 'px'; bar.style.top = y + 'px';
  bar.style.width = w + 'px'; bar.style.height = h + 'px';
  bar.style.background = 'linear-gradient(to top,' + rgb(pLow) + ',' + rgb(pMid) + ',' + rgb(pHigh) + ')';
  page.appendChild(bar);
  breaks.forEach(b => {
    const yy = y + (1 - (b - range[0]) / (range[1] - range[0])) * h;
    [x, x + w - 15].forEach(xx => {
      const t = document.createElement('div');
      t.className = 'sw';
      t.style.left = xx + 'px'; t.style.top = (yy - 1.5) + 'px';
      t.style.width = '15px'; t.style.height = '3px'; t.style.background = '#fff';
      page.appendChild(t);
    });
    text(fmt(b), labelX, yy, { size: size, anchor: 'left' });
  });
}
function sizeKey(cx, ys, breaks, sizeFn, labelX, size) {
  breaks.forEach((b, i) => {
    const d = sizeFn(b), c = document.createElement('div');
    c.className = 'sw';
    c.style.left = (cx - d / 2) + 'px'; c.style.top = (ys[i] - d / 2) + 'px';
    c.style.width = d + 'px'; c.style.height = d + 'px';
    c.style.borderRadius = '50%'; c.style.background = '#111';
    page.appendChild(c);
    text(String(b), labelX, ys[i], { size: size, anchor: 'left' });
  });
}
text('pvalue', 2212, 2065, { size: 52, bold: true, anchor: 'left', color: '#111' });
colorbar(2212, 2112, 73, 367, goPRange, goPBreaks, b => b.toFixed(5), 2310, 44);
text('Count', 2212, 2598, { size: 52, bold: true, anchor: 'left', color: '#111' });
sizeKey(2249, [2681, 2754, 2828], goCountBreaks, goSize, 2310, 44);

// ---------------- panel D ----------------
text('D', 2520, 1633, { size: 94 });
text('KEGG Enrichment', 3722, 1691, { size: 52, bold: true, color: '#111' });
const keggPRange = [Math.min(...keggP), Math.max(...keggP)];
(function () {
  const box = [3495, 1747, 3943, 3108], m = [1045, 45, 30, 60];
  const o = baseOptions(m, false);
  o.scales = {
    x: { type: 'linear', min: 1.83, max: 4.82, afterFit: fitH(m[3]),
      ticks: { stepSize: 0.5, includeBounds: false, autoSkip: false, maxRotation: 0, minRotation: 0, padding: 6,
        color: '#4d4d4d', font: { size: 40 }, callback: v => (near(v, 1) ? String(Math.round(v)) : '') },
      grid: { color: gridCol, lineWidth: 3.5, tickLength: 12, tickWidth: 3,
        tickColor: c => (c.tick && near(c.tick.value, 1) ? '#333' : 'rgba(0,0,0,0)') },
      border: { display: false } },
    y: { type: 'linear', reverse: true, min: -0.6, max: keggTerms.length - 0.4, afterFit: fitW(m[0]),
      ticks: { stepSize: 1, includeBounds: false, autoSkip: false, padding: 10, color: '#4d4d4d',
        font: c => ({ size: (c.tick && keggTerms[c.tick.value] && keggTerms[c.tick.value].length > 45) ? 35 : 39,
          weight: 'bold', family: FF }),
        callback: v => keggTerms[v] },
      grid: { color: gridCol, lineWidth: 3.5, tickLength: 13, tickWidth: 3, tickColor: '#333' },
      border: { display: false } }
  };
  o.plugins.frame = { width: 2.5, color: '#333' };
  new Chart(addCanvas(box, m), {
    type: 'bubble',
    data: { datasets: [{ data: keggTerms.map((t, i) => ({ x: keggFactor[i], y: i, r: keggSize(keggCount[i]) / 2 })),
      backgroundColor: keggTerms.map((t, i) => pColor(keggP[i], keggPRange)), borderWidth: 0, clip: 0 }] },
    options: o
  });
})();
text('Enrichment Factor', 3736, 3198, { size: 47, bold: true, color: '#111' });
text('Count', 4017, 1994, { size: 47, bold: true, anchor: 'left', color: '#111' });
sizeKey(4054, [2079, 2154, 2229, 2305], keggCountBreaks, keggSize, 4115, 38);
text('pvalue', 4017, 2461, { size: 47, bold: true, anchor: 'left', color: '#111' });
colorbar(4017, 2506, 74, 377, keggPRange, keggPBreaks,
  b => Math.round(b * 1e4) + ' × 10<span style="font-size:0.66em;position:relative;top:-0.6em">−04</span>', 4115, 34);
</script>
</body>
</html>
